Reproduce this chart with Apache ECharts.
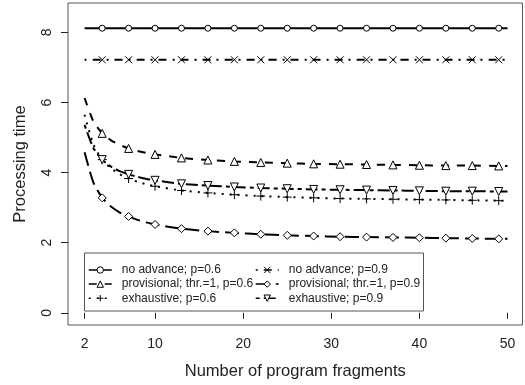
<!DOCTYPE html>
<html>
<head>
<meta charset="utf-8">
<script src="https://cdn.jsdelivr.net/npm/echarts@6/dist/echarts.min.js"></script>
<style>
  html, body { margin: 0; padding: 0; background: #fff; }
  #main { width: 525px; height: 385px; }
</style>
</head>
<body>
<div id="main"></div>
<script>
// x positions (number of program fragments) the curves are read at
const xs = [2, 3, 4, 5, 6, 7, 8, 9, 10, 13, 16, 19, 22, 25, 28, 31, 34, 37, 40, 43, 46, 49, 50];
// points that carry a marker in the original
const markerX = [4, 7, 10, 13, 16, 19, 22, 25, 28, 31, 34, 37, 40, 43, 46, 49];

const noAdv06 = [8.12, 8.12, 8.12, 8.12, 8.12, 8.12, 8.12, 8.12, 8.12, 8.12, 8.12, 8.12, 8.12, 8.12, 8.12, 8.12, 8.12, 8.12, 8.12, 8.12, 8.12, 8.12, 8.12];
const noAdv09 = [7.22, 7.22, 7.22, 7.22, 7.22, 7.22, 7.22, 7.22, 7.22, 7.22, 7.22, 7.22, 7.22, 7.22, 7.22, 7.22, 7.22, 7.22, 7.22, 7.22, 7.22, 7.22, 7.22];
const prov06 = [6.13, 5.46, 5.12, 4.92, 4.79, 4.69, 4.62, 4.56, 4.52, 4.42, 4.36, 4.32, 4.29, 4.27, 4.25, 4.24, 4.23, 4.22, 4.21, 4.20, 4.20, 4.19, 4.19];
const prov09 = [4.58, 3.72, 3.28, 3.03, 2.86, 2.75, 2.65, 2.58, 2.52, 2.40, 2.33, 2.28, 2.24, 2.21, 2.19, 2.17, 2.16, 2.15, 2.14, 2.13, 2.12, 2.11, 2.11];
const exh06 = [5.65, 4.80, 4.37, 4.12, 3.95, 3.83, 3.74, 3.67, 3.61, 3.49, 3.42, 3.37, 3.33, 3.30, 3.28, 3.26, 3.25, 3.24, 3.23, 3.22, 3.21, 3.20, 3.20];
const exh09 = [5.36, 4.70, 4.37, 4.17, 4.04, 3.95, 3.88, 3.82, 3.78, 3.68, 3.63, 3.59, 3.56, 3.54, 3.52, 3.51, 3.50, 3.49, 3.48, 3.47, 3.47, 3.46, 3.46];

const xTicks = [2, 10, 20, 30, 40, 50];
const yTicks = [0, 2, 4, 6, 8];

const FONT = 'Liberation Sans, Arial, Helvetica, sans-serif';

function toData(vals) {
  return xs.map((x, i) => {
    const item = { value: [x, vals[i]] };
    if (markerX.indexOf(x) < 0) item.symbol = 'none';
    return item;
  });
}

function makeSeries(name, vals, symbol, size, dash) {
  return {
    name: name,
    type: 'line',
    data: toData(vals),
    symbol: symbol,
    symbolSize: size,
    showSymbol: true,
    showAllSymbol: true,
    smooth: 0.2,
    lineStyle: { color: '#000', width: 2, type: dash },
    itemStyle: { color: '#fff', borderColor: '#000', borderWidth: 1 },
    emphasis: { disabled: true },
    z: 2
  };
}

// legend column settings shared by both columns
function legendCol(left, names) {
  return {
    orient: 'vertical',
    left: left, top: 264,
    padding: 0,
    itemWidth: 23, itemHeight: 8, itemGap: 2.1,
    itemStyle: { borderWidth: 1 },
    lineStyle: { width: 1.5 },
    textStyle: { fontSize: 12, color: '#222', fontFamily: FONT, padding: [0, 0, 0, 5] },
    data: names
  };
}

const chart = echarts.init(document.getElementById('main'));

const option = {
  animation: false,
  textStyle: { fontFamily: FONT },
  grid: {
    left: 68, right: 2.5, top: 3, bottom: 57.7,
    show: true, borderColor: '#555', borderWidth: 1, backgroundColor: 'transparent'
  },
  xAxis: {
    type: 'value',
    min: 0.12,
    max: 51.7,
    name: 'Number of program fragments',
    nameLocation: 'middle',
    nameGap: 38,
    nameTextStyle: { fontSize: 16.5, color: '#222', fontFamily: FONT },
    axisLine: { show: false },
    axisTick: { show: true, length: 6, customValues: xTicks, lineStyle: { color: '#222' } },
    axisLabel: { customValues: xTicks, fontSize: 14, color: '#222', margin: 12, fontFamily: FONT },
    splitLine: { show: false }
  },
  yAxis: {
    type: 'value',
    min: -0.349,
    max: 8.84,
    name: 'Processing time',
    nameLocation: 'middle',
    nameGap: 39,
    nameTextStyle: { fontSize: 16.5, color: '#222', fontFamily: FONT },
    axisLine: { show: false },
    axisTick: { show: true, length: 7, customValues: yTicks, lineStyle: { color: '#222' } },
    axisLabel: { customValues: yTicks, rotate: 90, fontSize: 14, color: '#222', margin: 14, fontFamily: FONT },
    splitLine: { show: false }
  },
  legend: [
    legendCol(88, ['no advance; p=0.6', 'provisional; thr.=1, p=0.6', 'exhaustive; p=0.6']),
    legendCol(255, ['no advance; p=0.9', 'provisional; thr.=1, p=0.9', 'exhaustive; p=0.9'])
  ],
  graphic: [
    {
      type: 'rect',
      z: 3,
      shape: { x: 84.5, y: 253, width: 339, height: 58 },
      style: { fill: 'transparent', stroke: '#555', lineWidth: 1 }
    }
  ],
  series: [
    makeSeries('no advance; p=0.6', noAdv06, 'circle', 6, 'solid'),
    makeSeries('no advance; p=0.9', noAdv09, 'path://M0,0L10,10M10,0L0,10', 7, [2, 6, 8, 6]),
    makeSeries('provisional; thr.=1, p=0.6', prov06, 'triangle', 8, [8, 8]),
    makeSeries('provisional; thr.=1, p=0.9', prov09, 'diamond', 8, [14, 6]),
    makeSeries('exhaustive; p=0.6', exh06, 'path://M5,0L5,10M0,5L10,5', 9, [2, 6]),
    makeSeries('exhaustive; p=0.9', exh09, 'path://M0,0L10,0L5,9Z', 8, [4, 4, 12, 4])
  ]
};

chart.setOption(option);
</script>
</body>
</html>
